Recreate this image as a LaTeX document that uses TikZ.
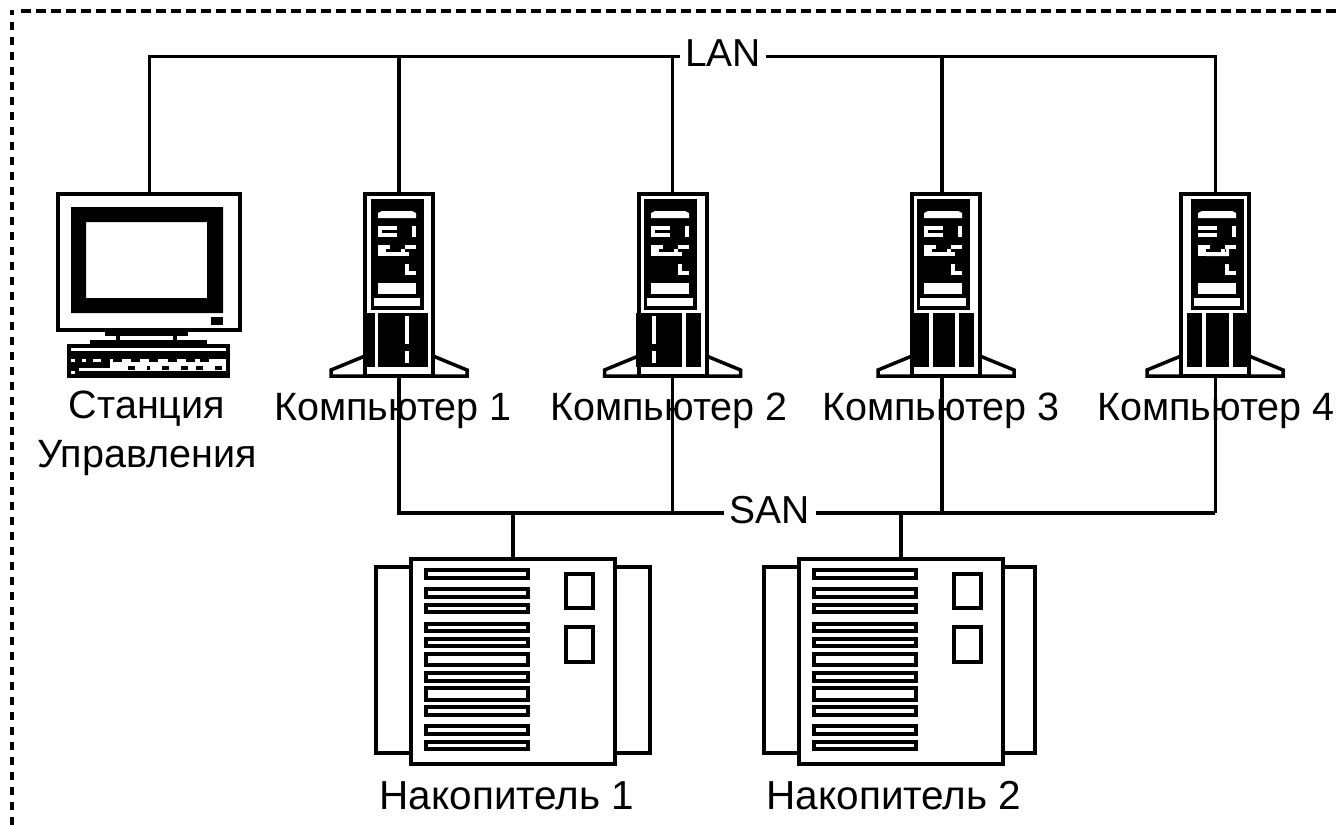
\documentclass[tikz,border=0pt]{standalone}
\usepackage{fontspec}
\setmainfont{Liberation Sans}
\usetikzlibrary{calc}
\tikzset{
    devicecase/.style={rectangle, draw=black, line width=4pt, fill=white, inner sep=0pt, outer sep=0pt},
    bus/.style={black, line width=3pt},
    thickbus/.style={black, line width=4pt},
    busname/.style={font=\fontsize{39}{39}\selectfont, inner sep=5.5pt, outer sep=0pt, text height=20pt, text depth=0pt},
    devicename/.style={font=\fontsize{39.5}{49}\selectfont, inner sep=0pt, align=center},
    storename/.style={font=\fontsize{40.5}{49}\selectfont, inner sep=0pt},
    pics/tower/.style 2 args={code={
        \foreach \sx in {-1,1} {
            \draw[black, line width=3.5pt, fill=white, xscale=\sx, miter limit=2] (34,164) -- (68,178) -- (68,184) -- (34,184);
        }
        \node[devicecase, minimum width=68pt, minimum height=182pt, anchor=north] (-case) at (0,2) {};
        \fill[black] (#1,7) rectangle ++(53,111);
        \fill[white] (#1+7,26) -- (#1+7,21) -- (#1+11,19) -- (#1+41,19) -- (#1+45,21) -- (#1+45,26) -- cycle;
        \fill[white] (#1+7,34) rectangle (#1+26,45);
        \fill[black] (#1+11,38) rectangle (#1+26,41);
        \fill[white] (#1+41,34) rectangle (#1+45,45);
        \fill[white] (#1+7,53) rectangle (#1+15,64);
        \fill[white] (#1+7,60) rectangle (#1+38,64);
        \fill[white] (#1+15,53) rectangle (#1+19,57);
        \fill[white] (#1+34,53) rectangle (#1+45,57);
        \fill[white] (#1+34,60) rectangle (#1+30,57);
        \fill[white] (#1+34,72) rectangle (#1+38,83);
        \fill[white] (#1+34,79) rectangle (#1+45,83);
        \fill[white] (#1+7,91) rectangle (#1+45,102);
        \fill[white] (#1+3,106) rectangle (#1+49,114);
        \foreach \a/\b in {#2} {
            \fill[black] (\a,121) rectangle (\b,175);
        }
    }},
    pics/towerslit/.style={code={
        \fill[white] (0,124) rectangle (4,152);
        \fill[white] (0,159) rectangle (4,171);
    }},
    pics/monitor/.style={code={
        \node[devicecase, minimum width=182pt, minimum height=136pt, anchor=north] (-case) at (0,2) {};
        \fill[black, even odd rule] (-78,15) rectangle (74,121) (-63,30) rectangle (58,106);
        \fill[black] (62,125) rectangle (74,133);
        \fill[black] (-44,140) rectangle (39,144);
        \fill[black] (-33,144) rectangle (-29,148);
        \fill[black] (24,144) rectangle (28,148);
        \fill[black] (-59,148) rectangle (58,152);
        \fill[black] (-82,152) rectangle (81,186);
        \fill[white] (-78,156) rectangle (77,159);
        \foreach \kx in {-78,-67} {
            \fill[white] (\kx,167) rectangle ++(4,3);
        }
        \fill[white] (-56,167) rectangle ++(8,3);
        \fill[white] (-78,179) rectangle ++(4,3);
        \fill[white] (-70,176) rectangle ++(41,3);
        \fill[white] (-39,167) rectangle (77,179);
        \foreach \kx in {-36,-18,0,19,37,51} {
            \fill[black] (\kx,167) rectangle ++(9,3);
        }
        \foreach \kx/\kw in {-21/7,-2/3,13/7,32/7,47/7,66/7} {
            \fill[black] (\kx,174) rectangle ++(\kw,4);
        }
    }},
    pics/storage/.style={code={
        \draw[black, line width=4pt, fill=white] (-137,10) rectangle (-100,196);
        \draw[black, line width=4pt, fill=white] (100,10) rectangle (#1,196);
        \node[devicecase, minimum width=204pt, minimum height=205pt, anchor=north] (-case) at (0,2) {};
        \foreach \t/\b in {13/21,32/40,48/55,67/74,82/89,97/108,116/124,131/143,150/158,169/177,185/192} {
            \draw[black, line width=4pt] (-87,\t) rectangle (15,\b);
        }
        \draw[black, line width=4pt] (53,17) rectangle (80,51);
        \draw[black, line width=4pt] (53,70) rectangle (80,105);
    }},
}
\begin{document}
\begin{tikzpicture}[x=1pt, y=-1pt]
    \useasboundingbox (0,0) rectangle (1338,825);
    \draw[black, line width=4pt, dash pattern=on 8pt off 7pt] (12,825) -- (12,10);
    \draw[black, line width=4pt, dash pattern=on 10pt off 5pt] (21,11) -- (1338,11);

    \node[busname] (lan) at (723,56) {LAN};
    \node[busname] (san) at (770,513) {SAN};

    \pic (station) at (149,192) {monitor};
    \pic (comp1) at (399,192) {tower={-28}{-36/-24,-21/29}};
    \pic (comp2) at (672.5,192) {tower={-28.5}{-36.5/9.5,13.5/28.5}};
    \pic (comp3) at (946,192) {tower={-29}{-36/-17,-13/9,13/28}};
    \pic (comp4) at (1215,192) {tower={-24}{-28/-13,-9/14,18/36}};
    \pic at (405,192) {towerslit};
    \pic at (652,192) {towerslit};
    \fill[black] (1198,230) rectangle (1202,233);
    \fill[white] (1206,253) rectangle (1229,256) (1226,245) rectangle (1229,256);
    \pic (store1) at (513,557) {storage=137};
    \pic (store2) at (900.5,557) {storage=134};

    \coordinate (port3top) at ($(comp3-case.north)+(-4,0)$);
    \coordinate (port3low) at ($(comp3-case.south)+(-4,0)$);

    \draw[bus] (station-case.north) |- (lan.west);
    \draw[thickbus] (comp1-case.north) -- (comp1-case.north |- lan.west);
    \draw[bus] (comp2-case.north) -- (comp2-case.north |- lan.west);
    \draw[thickbus] (port3top) -- (port3top |- lan.east);
    \draw[bus] (comp4-case.north) |- (lan.east);

    \draw[thickbus] (comp1-case.south) |- (san.west);
    \draw[bus] (comp2-case.south) -- (comp2-case.south |- san.west);
    \draw[thickbus] (port3low) -- (port3low |- san.east);
    \draw[bus] (comp4-case.south) -- (comp4-case.south |- san.east);
    \draw[thickbus] (san.east) -- (san.east -| comp4-case.south);
    \draw[thickbus] (store1-case.north) -- (store1-case.north |- san.west);
    \draw[thickbus] (store2-case.north) -- (store2-case.north |- san.east);

    \node[devicename] (stationname) at (147,433) {Станция\\Управления};
    \node[devicename, anchor=base] (comp1name) at (393,420) {Компьютер 1};
    \node[devicename, anchor=base] (comp2name) at (669,420) {Компьютер 2};
    \node[devicename, anchor=base] (comp3name) at (941,420) {Компьютер 3};
    \node[devicename, anchor=base] (comp4name) at (1216,420) {Компьютер 4};
    \node[storename, anchor=base] (store1name) at (507,809) {Накопитель 1};
    \node[storename, anchor=base] (store2name) at (894,809) {Накопитель 2};
\end{tikzpicture}
\end{document}
